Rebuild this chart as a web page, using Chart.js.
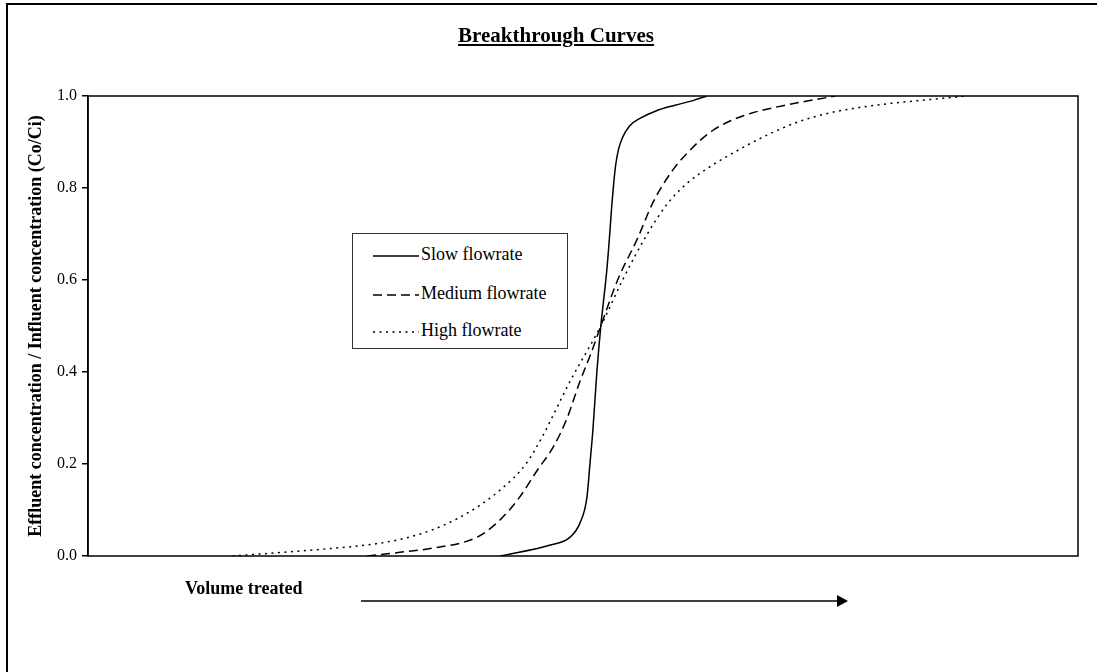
<!DOCTYPE html>
<html>
<head>
<meta charset="utf-8">
<script src="https://cdn.jsdelivr.net/npm/chart.js@4.4.0/dist/chart.umd.min.js"></script>
<style>
  html, body { margin: 0; padding: 0; background: #fff; overflow: hidden; }
  body { width: 1097px; height: 672px; position: relative; font-family: "Liberation Serif", "Times New Roman", serif; }
  #frame { position: absolute; left: 6px; top: 3px; width: 1200px; height: 800px; border: 2px solid #000; }
  #wrap { position: absolute; left: 0; top: 0; width: 1097px; height: 672px; }
  #title { position: absolute; left: 0; top: 23px; width: 1112px; text-align: center; font-weight: bold; font-size: 21px; text-decoration: underline; color: #000; }
  .legend { position: absolute; left: 352px; top: 233px; width: 214px; height: 114px; border: 1px solid #333; background: #fff; }
  .legend .row { position: absolute; left: 20px; height: 20px; font-size: 18px; line-height: 20px; color: #000; }
  .legend svg { vertical-align: middle; margin-right: 2px; }
  #vol { position: absolute; left: 185px; top: 578px; font-size: 18px; font-weight: bold; color: #000; }
  #arrow { position: absolute; left: 355px; top: 590px; }
</style>
</head>
<body>
<div id="frame"></div>
<div id="wrap"><canvas id="myChart" width="1097" height="672"></canvas></div>
<div id="title">Breakthrough Curves</div>
<div class="legend">
  <div class="row" style="top:10px"><svg width="46" height="4"><line x1="0" y1="2" x2="46" y2="2" stroke="#000" stroke-width="1.5"/></svg>Slow flowrate</div>
  <div class="row" style="top:49px"><svg width="46" height="4"><line x1="0" y1="2" x2="46" y2="2" stroke="#000" stroke-width="1.5" stroke-dasharray="9,5"/></svg>Medium flowrate</div>
  <div class="row" style="top:86px"><svg width="46" height="4"><line x1="0" y1="2" x2="46" y2="2" stroke="#000" stroke-width="1.5" stroke-dasharray="2,4.5"/></svg>High flowrate</div>
</div>
<div id="vol">Volume treated</div>
<svg id="arrow" width="500" height="22">
  <line x1="6" y1="11" x2="484" y2="11" stroke="#000" stroke-width="1.5"/>
  <polygon points="482,5 493,11 482,17" fill="#000"/>
</svg>
<script>
// data (volume in arbitrary units, concentration ratio Co/Ci)
const slowVol = [41.6, 46.7, 48.7, 49.7, 50.4, 50.7, 51.0, 51.4, 51.8, 52.1, 52.4, 52.7, 52.9, 53.1, 53.3, 53.6, 54.0, 54.7, 55.8, 57.3, 59.3, 61.1, 62.5];
const slowConc = [0, 0.024, 0.041, 0.072, 0.128, 0.2, 0.274, 0.4, 0.5, 0.56, 0.62, 0.7, 0.76, 0.81, 0.85, 0.885, 0.91, 0.935, 0.952, 0.967, 0.98, 0.99, 1.0];

const medVol = [28.2, 31.5, 34.8, 39.3, 41.6, 43.6, 45.4, 47.0, 48.4, 49.7, 50.8, 51.8, 53.5, 55.5, 57.1, 59.1, 60.5, 61.8, 63.1, 64.8, 66.9, 70.2, 72.9, 75.5];
const medConc = [0, 0.008, 0.017, 0.041, 0.078, 0.128, 0.187, 0.237, 0.3, 0.38, 0.44, 0.5, 0.6, 0.69, 0.77, 0.84, 0.875, 0.903, 0.925, 0.945, 0.962, 0.979, 0.99, 1.0];

const highVol = [14.6, 18.4, 21.4, 24.9, 28.2, 31.5, 34.8, 38.3, 41.6, 44.3, 45.9, 48.7, 51.8, 54.0, 56.5, 58.5, 60.5, 63.1, 65.9, 68.6, 71.9, 75.3, 80.3, 85.4, 88.8];
const highConc = [0, 0.006, 0.011, 0.017, 0.024, 0.036, 0.057, 0.093, 0.143, 0.202, 0.26, 0.38, 0.5, 0.6, 0.7, 0.765, 0.81, 0.85, 0.885, 0.915, 0.945, 0.965, 0.982, 0.993, 1.0];

const seriesNames = ["Slow flowrate", "Medium flowrate", "High flowrate"];
const yTicks = [0, 0.2, 0.4, 0.6, 0.8, 1.0];

function pts(xs, ys) {
  return xs.map(function (x, i) { return { x: x, y: ys[i] }; });
}

// frame round the plot area
const frameBox = {
  id: "frameBox",
  afterDatasetsDraw: function (chart) {
    const a = chart.chartArea;
    const ctx = chart.ctx;
    ctx.save();
    ctx.strokeStyle = "#000";
    ctx.lineWidth = 1.5;
    ctx.strokeRect(a.left, a.top, a.right - a.left, a.bottom - a.top);
    ctx.restore();
  }
};

const lineBase = {
  borderColor: "#000",
  borderWidth: 1.5,
  pointRadius: 0,
  fill: false,
  cubicInterpolationMode: "monotone"
};

const data = {
  datasets: [
    Object.assign({ label: seriesNames[0], data: pts(slowVol, slowConc), borderDash: [] }, lineBase),
    Object.assign({ label: seriesNames[1], data: pts(medVol, medConc), borderDash: [9, 5] }, lineBase),
    Object.assign({ label: seriesNames[2], data: pts(highVol, highConc), borderDash: [2, 4.5] }, lineBase)
  ]
};

const config = {
  type: "line",
  data: data,
  options: {
    responsive: false,
    animation: false,
    layout: { padding: { top: 96, right: 19, bottom: 116, left: 0 } },
    scales: {
      x: { type: "linear", min: 0, max: 100, display: false },
      y: {
        min: 0,
        max: 1,
        afterFit: function (scale) { scale.width = 88; },
        afterBuildTicks: function (scale) {
          scale.ticks = yTicks.map(function (v) { return { value: v }; });
        },
        ticks: {
          color: "#000",
          padding: 5,
          font: { family: "'Liberation Serif', 'Times New Roman', serif", size: 16 },
          callback: function (v) { return Number(v).toFixed(1); }
        },
        grid: { drawOnChartArea: false, drawTicks: true, tickLength: 6, color: "#000", lineWidth: 1.5 },
        border: { color: "#000", width: 1.5 },
        title: {
          display: true,
          text: "Effluent concentration / Influent concentration (Co/Ci)",
          color: "#000",
          padding: { top: 26, bottom: 0 },
          font: { family: "'Liberation Serif', 'Times New Roman', serif", size: 18, weight: "bold" }
        }
      }
    },
    plugins: {
      legend: { display: false },
      tooltip: { enabled: false }
    }
  },
  plugins: [frameBox]
};

var myChart = new Chart(document.getElementById("myChart"), config);
</script>
</body>
</html>
